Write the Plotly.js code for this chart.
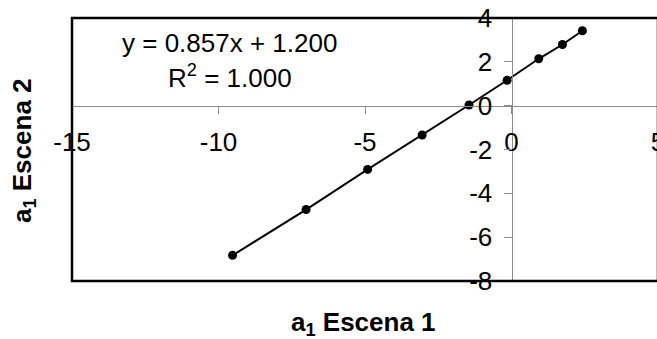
<!DOCTYPE html>
<html>
<head>
<meta charset="utf-8">
<script src="https://cdn.plot.ly/plotly-3.0.1.min.js"></script>
<style>
html, body { margin: 0; padding: 0; overflow: hidden; background: #fff; }
#chart { width: 662px; height: 339px; }
</style>
</head>
<body>
<div id="chart"></div>
<script>
// Data
const escena1 = [-9.52, -7.01, -4.91, -3.05, -1.45, -0.15, 0.93, 1.74, 2.42];
const escena2 = [-6.83, -4.74, -2.91, -1.34, 0.03, 1.16, 2.14, 2.79, 3.42];
const xTicks = [-15, -10, -5, 0, 5];
const yTicks = [-8, -6, -4, -2, 0, 2, 4];
const equationText = "y = 0.857x + 1.200";
const r2Text = "R<sup>2</sup> = 1.000";
const xTitle = "a<sub>1</sub> Escena 1";
const yTitle = "a<sub>1</sub> Escena 2";

const FONT = "Liberation Sans, Arial, sans-serif";

const trace = {
  x: escena1,
  y: escena2,
  type: "scatter",
  mode: "lines+markers",
  line: { color: "#000", width: 2 },
  marker: { color: "#000", size: 9 },
  showlegend: false,
  cliponaxis: false
};

const layout = {
  width: 662,
  height: 339,
  margin: { l: 72, r: 3.5, t: 17.5, b: 57.5, pad: 0 },
  paper_bgcolor: "#fff",
  plot_bgcolor: "#fff",
  font: { family: FONT, size: 26, color: "#000" },
  xaxis: {
    range: [-15, 5],
    tickvals: xTicks,
    ticktext: xTicks.map(String),
    anchor: "free",
    position: 8 / 12,
    showline: true,
    linecolor: "#8c8c8c",
    linewidth: 1.5,
    ticks: "outside",
    ticklen: 7,
    tickwidth: 1,
    tickcolor: "#8c8c8c",
    showgrid: false,
    zeroline: false,
    tickfont: { family: FONT, size: 26, color: "#000" },
    ticklabelstandoff: 6,
    ticklabeloverflow: "allow"
  },
  yaxis: {
    range: [-8, 4],
    tickvals: yTicks,
    ticktext: yTicks.map(String),
    anchor: "free",
    position: 15 / 20,
    showline: true,
    linecolor: "#8c8c8c",
    linewidth: 1.5,
    ticks: "outside",
    ticklen: 8,
    tickwidth: 1,
    tickcolor: "#8c8c8c",
    showgrid: false,
    zeroline: false,
    tickfont: { family: FONT, size: 26, color: "#000" },
    ticklabelstandoff: 6,
    ticklabeloverflow: "allow"
  },
  shapes: [
    {
      type: "rect", xref: "paper", yref: "paper",
      x0: 0, x1: 1, y0: 0, y1: 1,
      line: { color: "#000", width: 2.5 },
      layer: "above"
    }
  ],
  annotations: [
    {
      text: equationText, xref: "paper", yref: "paper",
      x: (230 - 72) / 586.5, y: 1 - (43 - 17.5) / 264,
      xanchor: "center", yanchor: "middle", showarrow: false,
      font: { family: FONT, size: 26, color: "#000" }
    },
    {
      text: r2Text, xref: "paper", yref: "paper",
      x: (230 - 72) / 586.5, y: 1 - (76 - 17.5) / 264,
      xanchor: "center", yanchor: "middle", showarrow: false,
      font: { family: FONT, size: 26, color: "#000" }
    },
    {
      text: "<b>" + xTitle + "</b>", xref: "paper", yref: "paper",
      x: (364 - 72) / 586.5, y: -(324 - 281.5) / 264,
      xanchor: "center", yanchor: "middle", showarrow: false,
      font: { family: FONT, size: 26, color: "#000" }
    },
    {
      text: "<b>" + yTitle + "</b>", xref: "paper", yref: "paper",
      x: -(72 - 24) / 586.5, y: 1 - (151 - 17.5) / 264,
      xanchor: "center", yanchor: "middle", showarrow: false, textangle: -90,
      font: { family: FONT, size: 26, color: "#000" }
    }
  ]
};

Plotly.newPlot("chart", [trace], layout, { displayModeBar: false, staticPlot: true });
</script>
</body>
</html>
